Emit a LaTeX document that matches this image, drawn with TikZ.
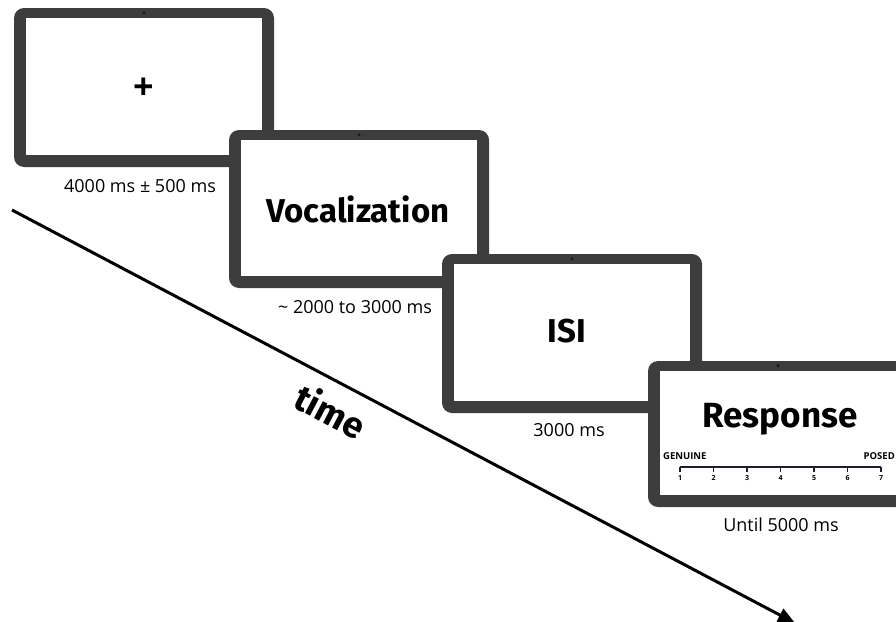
\documentclass[tikz,border=0pt]{standalone}
\usepackage{fontspec}
\setmainfont{Open Sans}
\newfontfamily\titlefont{Fira Sans}
\usetikzlibrary{arrows.meta}
\definecolor{frame}{HTML}{3D3D3D}
\definecolor{cam}{HTML}{1A1A1A}
\definecolor{scaleink}{HTML}{1F1F2A}
\newcommand\drawlaptop[4]{% name, cx, cy, outer height
  \node[laptopframe,minimum width=260pt,minimum height=#4pt] (#1) at (#2,#3) {};
  \node[screen,minimum width=236pt,minimum height={#4pt-22pt},anchor=north] (#1s) at ([yshift=-10pt]#1.north) {};
  \node[camera] (#1c) at ([yshift=-5pt]#1.north) {};
}
\begin{document}
\begin{tikzpicture}[x=1pt,y=-1pt,
  laptopframe/.style={draw=none,fill=frame,rounded corners=10pt,inner sep=0pt},
  screen/.style={fill=white,draw=none,inner sep=0pt},
  camera/.style={circle,fill=cam,minimum size=3.4pt,inner sep=0pt},
  title/.style={font=\titlefont\bfseries\fontsize{33}{36}\selectfont,inner sep=0pt},
  duration/.style={font=\fontsize{18}{20}\selectfont,inner sep=0pt},
  scalelab/.style={font=\bfseries\fontsize{9.5}{10}\selectfont,inner sep=0pt},
  scalenum/.style={font=\bfseries\fontsize{7}{7}\selectfont,inner sep=0pt},
  scaleline/.style={draw=scaleink,line width=1.4pt},
  timearrow/.style={line width=3pt,-{Triangle[length=17pt,width=14pt]}},
  ]
\useasboundingbox (0,0) rectangle (896,621);
\clip (0,0) rectangle (896,621);
\fill[white] (0,0) rectangle (896,621);

% laptops
\drawlaptop{L1}{144}{87.5}{159}
\node[font=\bfseries\fontsize{36}{36}\selectfont,inner sep=0pt] (plus) at (144,89) {+};
\drawlaptop{L2}{359}{209}{158}
\node[title] (voc) at (358,209) {Vocalization};
\drawlaptop{L3}{572}{333.5}{159}
\node[title] (isi) at (567,331) {ISI};
\drawlaptop{L4}{778}{434}{146}
\node[title,font=\titlefont\bfseries\fontsize{35}{36}\selectfont] (resp) at (780,419) {Response};

% rating scale
\coordinate (s1) at (680,467);
\coordinate (s7) at (881,467);
\draw[scaleline] (s1) -- (s7);
\foreach \i [evaluate=\i as \xx using 680+(\i-1)*33.5] in {1,...,7} {
  \coordinate (t\i) at (\xx,467);
  \draw[scaleline,line width=1.2pt] (t\i) -- ++(0,5);
  \node[scalenum] (n\i) at (\xx,478) {\i};
}
\node[scalelab,anchor=west] (gen) at (663,456.5) {GENUINE};
\node[scalelab,anchor=east] (posed) at (895,456.5) {POSED};

% durations
\node[duration] (d1) at (140,186) {4000 ms ± 500 ms};
\node[duration] (d2) at (355,307) {\textasciitilde{} 2000 to 3000 ms};
\node[duration] (d3) at (569,430) {3000 ms};
\node[duration] (d4) at (781,525) {Until 5000 ms};

% time arrow
\coordinate (tstart) at (12,210);
\coordinate (tend) at (795,623);
\draw[timearrow] (tstart) -- (tend);
\node[font=\titlefont\bfseries\fontsize{36}{36}\selectfont,rotate=-27.8,inner sep=0pt] (time) at (331,411) {time};
\end{tikzpicture}
\end{document}
